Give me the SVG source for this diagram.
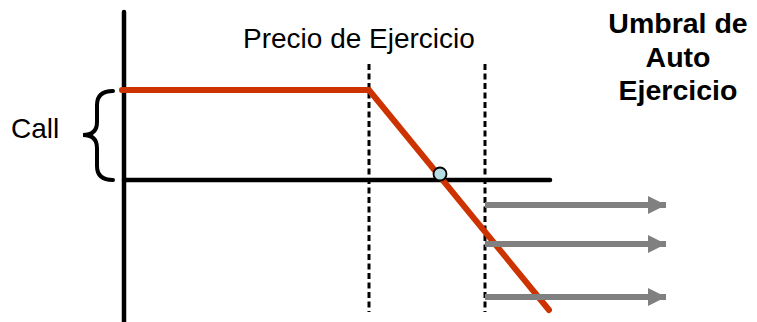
<svg xmlns="http://www.w3.org/2000/svg" width="757" height="322" viewBox="0 0 757 322">
<defs>
<style>
.lbl{font-family:"Liberation Sans",Arial,sans-serif;font-size:28px;fill:#000}
.bold{font-weight:bold;text-anchor:middle;font-size:28.5px}
.axis{stroke:#000;stroke-width:4.5;stroke-linecap:round;fill:none}
.dash{stroke:#000;stroke-width:3;stroke-dasharray:6 3.5;fill:none}
.pay{stroke:#CC3300;stroke-width:6;stroke-linecap:round;stroke-linejoin:miter;fill:none}
.garrow{stroke:#808080;stroke-width:6;fill:none;marker-end:url(#ah)}
</style>
<marker id="ah" markerUnits="userSpaceOnUse" markerWidth="18" markerHeight="18" refX="16" refY="8" orient="auto" viewBox="0 0 16 16">
<path d="M0,0 L16,8 L0,16 Z" fill="#808080"/>
</marker>
</defs>
<rect width="757" height="322" fill="#fff"/>
<g id="axes">
<line class="axis" x1="124" y1="12" x2="124" y2="324"/>
<line class="axis" x1="124" y1="180" x2="550" y2="180"/>
</g>
<g id="guides">
<line class="dash" x1="369" y1="64" x2="369" y2="312"/>
<line class="dash" x1="485" y1="64" x2="485" y2="312"/>
</g>
<g id="payoff">
<polyline class="pay" points="122,90 369,90 549,310"/>
<circle cx="440" cy="174" r="6.5" fill="#B7DEE3" stroke="#000" stroke-width="1.8"/>
</g>
<g id="brace">
<path d="M113,91 Q97,91 97,105 L97,122 Q97,135 83,135 Q97,135 97,148 L97,166 Q97,180 113,180" stroke="#000" stroke-width="4" fill="none" stroke-linecap="round"/>
</g>
<g id="connectors">
<line class="garrow" x1="485" y1="205" x2="666" y2="205"/>
<line class="garrow" x1="485" y1="244" x2="666" y2="244"/>
<line class="garrow" x1="485" y1="297" x2="666" y2="297"/>
</g>
<g id="label-call"><text class="lbl" x="11" y="138">Call</text></g>
<g id="label-strike"><text class="lbl" x="243" y="48">Precio de Ejercicio</text></g>
<g id="label-threshold">
<text class="lbl bold" x="678" y="33">Umbral de</text>
<text class="lbl bold" x="678" y="67">Auto</text>
<text class="lbl bold" x="678" y="100">Ejercicio</text>
</g>
</svg>
